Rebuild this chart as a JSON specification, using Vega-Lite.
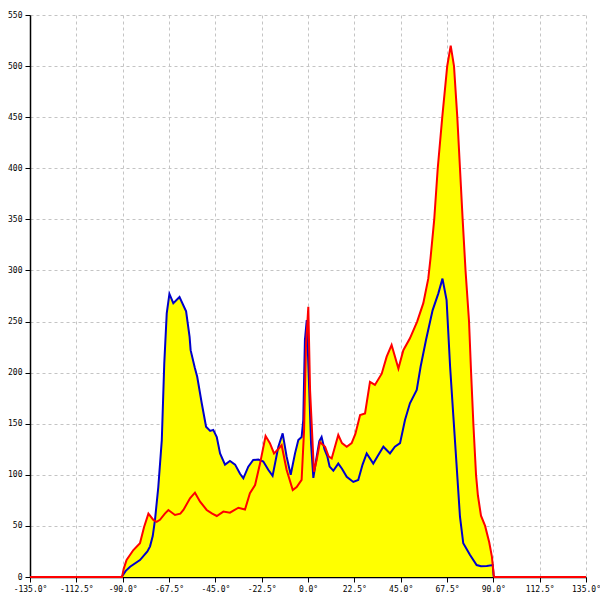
{
  "$schema": "https://vega.github.io/schema/vega-lite/v6.json",
  "width": 556,
  "height": 562,
  "autosize": "none",
  "padding": {"left": 30, "top": 15, "right": 14, "bottom": 23},
  "background": "white",
  "config": {
    "view": {"stroke": null},
    "axis": {
      "domainColor": "black",
      "domainWidth": 1.5,
      "tickColor": "black",
      "tickSize": 5,
      "tickWidth": 1,
      "labelFont": "DejaVu Sans Mono",
      "labelFontSize": 8,
      "labelColor": "black",
      "gridColor": "#c4c4c4",
      "gridDash": [3, 3],
      "gridWidth": 1,
      "title": null,
      "labelOverlap": false,
      "labelFlush": false
    }
  },
  "datasets": {
    "blue": [
      {"a": -90.5, "v": 0}, {"a": -88.5, "v": 6}, {"a": -86.4, "v": 10}, {"a": -81.6, "v": 16.6},
      {"a": -78, "v": 25}, {"a": -76.7, "v": 30}, {"a": -75.4, "v": 40}, {"a": -74.3, "v": 56},
      {"a": -72.7, "v": 88}, {"a": -71.0, "v": 134}, {"a": -69.8, "v": 209}, {"a": -68.6, "v": 258},
      {"a": -67.3, "v": 277}, {"a": -65.4, "v": 268}, {"a": -62.4, "v": 274}, {"a": -59.2, "v": 260},
      {"a": -57.5, "v": 235}, {"a": -57.0, "v": 222}, {"a": -55, "v": 205}, {"a": -53.8, "v": 196},
      {"a": -51.6, "v": 170}, {"a": -49.5, "v": 147}, {"a": -47.5, "v": 143}, {"a": -46.0, "v": 144},
      {"a": -44.3, "v": 137}, {"a": -42.7, "v": 121}, {"a": -40.3, "v": 110}, {"a": -37.9, "v": 113.5},
      {"a": -35.4, "v": 110}, {"a": -33, "v": 101}, {"a": -31.4, "v": 96.6}, {"a": -29.0, "v": 108},
      {"a": -26.6, "v": 114.5}, {"a": -24.1, "v": 115}, {"a": -21.7, "v": 113}, {"a": -19.3, "v": 105},
      {"a": -17.2, "v": 99}, {"a": -14.4, "v": 127.5}, {"a": -12.3, "v": 140.6}, {"a": -10.4, "v": 118},
      {"a": -8.4, "v": 100}, {"a": -6.3, "v": 121}, {"a": -4.7, "v": 134}, {"a": -3.1, "v": 137},
      {"a": -2.3, "v": 153.6}, {"a": -1.5, "v": 232}, {"a": -0.6, "v": 251.5}, {"a": 0.6, "v": 183},
      {"a": 1.5, "v": 130}, {"a": 2.6, "v": 97}, {"a": 4, "v": 115}, {"a": 5.5, "v": 133},
      {"a": 6.6, "v": 137}, {"a": 8, "v": 125}, {"a": 9.4, "v": 118}, {"a": 10.5, "v": 108},
      {"a": 12.3, "v": 104}, {"a": 14.7, "v": 111}, {"a": 16.5, "v": 106}, {"a": 18.8, "v": 98},
      {"a": 22.0, "v": 93}, {"a": 24.4, "v": 95}, {"a": 26.5, "v": 110}, {"a": 28.5, "v": 121},
      {"a": 31.7, "v": 111}, {"a": 34, "v": 119}, {"a": 36.6, "v": 127.5}, {"a": 39.8, "v": 121},
      {"a": 42.2, "v": 127.5}, {"a": 44.7, "v": 131}, {"a": 47.1, "v": 153.6}, {"a": 49.5, "v": 170},
      {"a": 52.8, "v": 183}, {"a": 54.7, "v": 206}, {"a": 57.3, "v": 232}, {"a": 60.5, "v": 261},
      {"a": 63.3, "v": 277.6}, {"a": 65.3, "v": 292}, {"a": 67.3, "v": 271}, {"a": 69.0, "v": 206},
      {"a": 70.6, "v": 157}, {"a": 72.2, "v": 108}, {"a": 73.8, "v": 59}, {"a": 75.4, "v": 33},
      {"a": 78.7, "v": 21.5}, {"a": 81.9, "v": 11.7}, {"a": 84, "v": 10.5}, {"a": 86.8, "v": 10.8},
      {"a": 89.7, "v": 11.7}, {"a": 90.2, "v": 0}
    ],
    "red": [
      {"a": -135, "v": 0}, {"a": -90.3, "v": 0}, {"a": -89.5, "v": 8}, {"a": -88.1, "v": 16.6},
      {"a": -84.8, "v": 26.4}, {"a": -81.6, "v": 33}, {"a": -79.6, "v": 49}, {"a": -77.5, "v": 62},
      {"a": -75.1, "v": 55.8}, {"a": -73.5, "v": 54}, {"a": -71.9, "v": 56}, {"a": -69.5, "v": 62},
      {"a": -67.8, "v": 65.6}, {"a": -64.6, "v": 60.7}, {"a": -62, "v": 62}, {"a": -60.5, "v": 65.6},
      {"a": -57.3, "v": 77}, {"a": -54.9, "v": 82.5}, {"a": -52.4, "v": 73.7}, {"a": -49.2, "v": 65.6},
      {"a": -46.5, "v": 62}, {"a": -44.3, "v": 59.7}, {"a": -41.1, "v": 64}, {"a": -37.9, "v": 63},
      {"a": -33.8, "v": 67.8}, {"a": -30.6, "v": 66}, {"a": -28.2, "v": 82}, {"a": -25.7, "v": 90},
      {"a": -23.3, "v": 111}, {"a": -20.6, "v": 138}, {"a": -18.5, "v": 131}, {"a": -16.5, "v": 121},
      {"a": -14.5, "v": 125}, {"a": -12.8, "v": 129}, {"a": -10.4, "v": 105}, {"a": -7.4, "v": 85},
      {"a": -5.5, "v": 88}, {"a": -3.1, "v": 95}, {"a": -1.9, "v": 144}, {"a": -1.0, "v": 225},
      {"a": 0.15, "v": 264.5}, {"a": 1.0, "v": 183}, {"a": 2.9, "v": 103}, {"a": 4.2, "v": 114.5},
      {"a": 5.8, "v": 132}, {"a": 8.3, "v": 127.5}, {"a": 10, "v": 118}, {"a": 11.5, "v": 116},
      {"a": 14.7, "v": 139}, {"a": 16.5, "v": 131}, {"a": 18.8, "v": 127.5}, {"a": 21.2, "v": 131},
      {"a": 23, "v": 140}, {"a": 25.3, "v": 158.5}, {"a": 27.7, "v": 160}, {"a": 30.1, "v": 191},
      {"a": 32.5, "v": 188}, {"a": 35.8, "v": 199}, {"a": 38.2, "v": 215.6}, {"a": 40.6, "v": 227},
      {"a": 43.9, "v": 204}, {"a": 46.3, "v": 222}, {"a": 49.5, "v": 233.6}, {"a": 53.0, "v": 250},
      {"a": 56.0, "v": 268}, {"a": 58.4, "v": 292}, {"a": 59.5, "v": 312}, {"a": 61.3, "v": 350},
      {"a": 63.0, "v": 400}, {"a": 65.2, "v": 450}, {"a": 67.6, "v": 500}, {"a": 69.3, "v": 520},
      {"a": 70.9, "v": 500}, {"a": 72.5, "v": 450}, {"a": 73.8, "v": 400}, {"a": 75.1, "v": 350},
      {"a": 76.5, "v": 300}, {"a": 78.2, "v": 250}, {"a": 79.2, "v": 200}, {"a": 80.3, "v": 150},
      {"a": 81.6, "v": 100}, {"a": 82.5, "v": 80}, {"a": 84.0, "v": 60}, {"a": 86.0, "v": 50},
      {"a": 88.0, "v": 34}, {"a": 89.3, "v": 20}, {"a": 90.2, "v": 2}, {"a": 90.5, "v": 0},
      {"a": 135, "v": 0}
    ]
  },
  "encoding": {
    "x": {
      "field": "a", "type": "quantitative",
      "scale": {"domain": [-135, 135], "nice": false, "zero": false},
      "axis": {
        "values": [-135, -112.5, -90, -67.5, -45, -22.5, 0, 22.5, 45, 67.5, 90, 112.5, 135],
        "labelExpr": "replace(format(datum.value, '.1f'), '\u2212', '-') + '\u00b0'",
        "labelPadding": 3
      }
    },
    "y": {
      "field": "v", "type": "quantitative",
      "scale": {"domain": [0, 550], "nice": false},
      "axis": {
        "values": [0, 50, 100, 150, 200, 250, 300, 350, 400, 450, 500, 550],
        "format": "d",
        "labelPadding": 3
      }
    }
  },
  "layer": [
    {"data": {"name": "blue"}, "mark": {"type": "area", "color": "#ffff00", "opacity": 1}},
    {"data": {"name": "red"}, "mark": {"type": "area", "color": "#ffff00", "opacity": 1}},
    {"data": {"name": "blue"}, "mark": {"type": "line", "color": "#0000cc", "strokeWidth": 2}},
    {"data": {"name": "red"}, "mark": {"type": "line", "color": "#ff0000", "strokeWidth": 2}}
  ]
}
